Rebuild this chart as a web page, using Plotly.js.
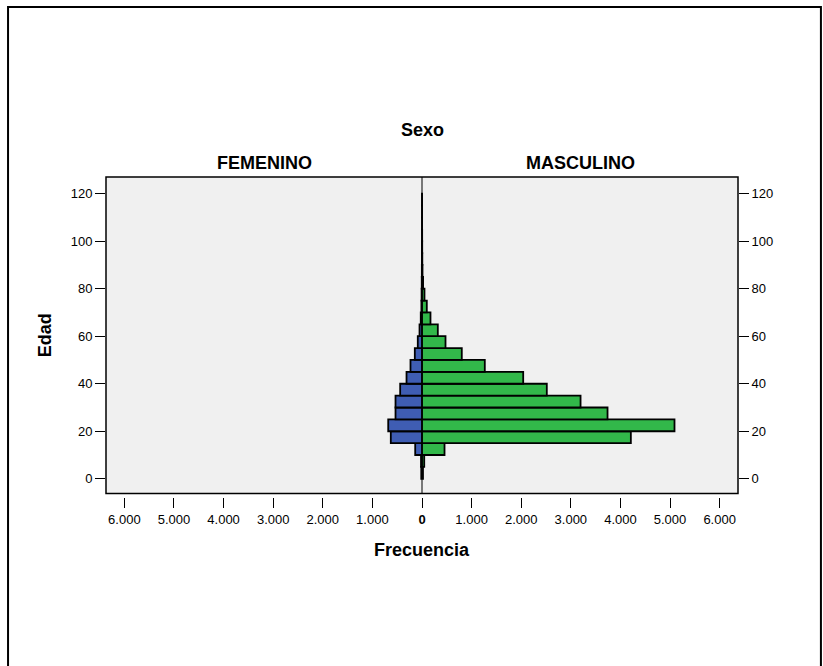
<!DOCTYPE html>
<html>
<head>
<meta charset="utf-8">
<script src="https://cdn.plot.ly/plotly-3.0.1.min.js"></script>
<style>
html,body{margin:0;padding:0;background:#fff;}
#chart{width:823px;height:666px;}
</style>
</head>
<body>
<div id="chart"></div>
<script>
// Age bins (5-year groups), bin centers
var edadBins = [2.5, 7.5, 12.5, 17.5, 22.5, 27.5, 32.5, 37.5, 42.5, 47.5, 52.5, 57.5,
                62.5, 67.5, 72.5, 77.5, 82.5, 87.5, 92.5, 97.5, 102.5, 107.5, 112.5, 117.5];
var femenino = [15, 20, 137, 629, 681, 534, 534, 440, 312, 232, 145, 85,
                50, 25, 12, 8, 5, 3, 2, 2, 1, 1, 1, 1];
var masculino = [20, 45, 454, 4210, 5090, 3740, 3196, 2516, 2040, 1266, 802, 474,
                 319, 171, 97, 50, 22, 10, 6, 4, 3, 2, 2, 2];
var xTickVals = [0, 1000, 2000, 3000, 4000, 5000, 6000];
var xTickTextLeft = ['', '1.000', '2.000', '3.000', '4.000', '5.000', '6.000'];
var xTickTextRight = ['<b>0</b>', '1.000', '2.000', '3.000', '4.000', '5.000', '6.000'];
var yTickVals = [0, 20, 40, 60, 80, 100, 120];

var FONT = 'Liberation Sans, Arial, sans-serif';
var yBottom = 0.0495;
var xPos = 0.039;

var traces = [
  {type: 'bar', orientation: 'h', x: femenino, y: edadBins, width: 5,
   xaxis: 'x', yaxis: 'y', name: 'FEMENINO', hoverinfo: 'x+y',
   marker: {color: '#3f5db3', line: {color: '#000', width: 1.8}}},
  {type: 'bar', orientation: 'h', x: masculino, y: edadBins, width: 5,
   xaxis: 'x2', yaxis: 'y', name: 'MASCULINO', hoverinfo: 'x+y',
   marker: {color: '#32b84a', line: {color: '#000', width: 1.8}}},
  // invisible trace to drive the right-side y axis
  {type: 'scatter', x: [0], y: [0], xaxis: 'x2', yaxis: 'y2', mode: 'markers',
   marker: {opacity: 0}, hoverinfo: 'skip', showlegend: false}
];

var axisX = {
  tickvals: xTickVals, ticks: 'outside', ticklen: 10, tickwidth: 1, tickcolor: '#000',
  showgrid: false, zeroline: false, showline: false, anchor: 'free', position: xPos,
  tickfont: {family: FONT, size: 13, color: '#000'}, fixedrange: true
};

function ann(text, x, y, angle) {
  return {text: '<b>' + text + '</b>', xref: 'paper', yref: 'paper', x: x, y: y,
          xanchor: 'center', yanchor: 'middle', textangle: angle || 0,
          showarrow: false, font: {family: FONT, size: 18, color: '#000'}};
}

var layout = {
  width: 823, height: 666,
  margin: {l: 106, r: 85, t: 177, b: 156, pad: 0},
  paper_bgcolor: '#fff', plot_bgcolor: '#f0f0f0',
  showlegend: false, bargap: 0,
  font: {family: FONT, color: '#000'},
  xaxis: Object.assign({}, axisX, {domain: [0, 0.5], range: [6370, 0], ticktext: xTickTextLeft}),
  xaxis2: Object.assign({}, axisX, {domain: [0.5, 1], range: [0, 6370], ticktext: xTickTextRight}),
  yaxis: {domain: [yBottom, 1], range: [-6.2, 127], anchor: 'x', side: 'left',
          tickvals: yTickVals, ticks: 'outside', ticklen: 10, tickwidth: 1, tickcolor: '#000',
          showgrid: false, zeroline: false, showline: false,
          tickfont: {family: FONT, size: 13, color: '#000'}},
  yaxis2: {domain: [yBottom, 1], range: [-6.2, 127], anchor: 'x2', side: 'right', overlaying: 'y',
          tickvals: yTickVals, ticks: 'outside', ticklen: 10, tickwidth: 1, tickcolor: '#000',
          showgrid: false, zeroline: false, showline: false,
          tickfont: {family: FONT, size: 13, color: '#000'}},
  shapes: [
    {type: 'rect', xref: 'paper', yref: 'paper', x0: 0, x1: 1, y0: yBottom, y1: 1,
     line: {color: '#000', width: 1.5}, fillcolor: 'rgba(0,0,0,0)'},
    {type: 'line', xref: 'paper', yref: 'paper', x0: 0.5, x1: 0.5, y0: yBottom, y1: 1,
     line: {color: '#000', width: 1}},
    {type: 'path', xref: 'paper', yref: 'paper',
     path: 'M -0.155,-0.6 L -0.155,1.5105 L 1.1312,1.5105 L 1.1312,-0.6',
     line: {color: '#000', width: 2}}
  ],
  annotations: [
    ann('Sexo', 0.5, 1.141),
    ann('FEMENINO', 0.25, 1.042),
    ann('MASCULINO', 0.75, 1.042),
    ann('Frecuencia', 0.5, -0.12),
    ann('Edad', -0.0965, 0.525, -90)
  ]
};

Plotly.newPlot('chart', traces, layout, {displayModeBar: false, staticPlot: true});
</script>
</body>
</html>
